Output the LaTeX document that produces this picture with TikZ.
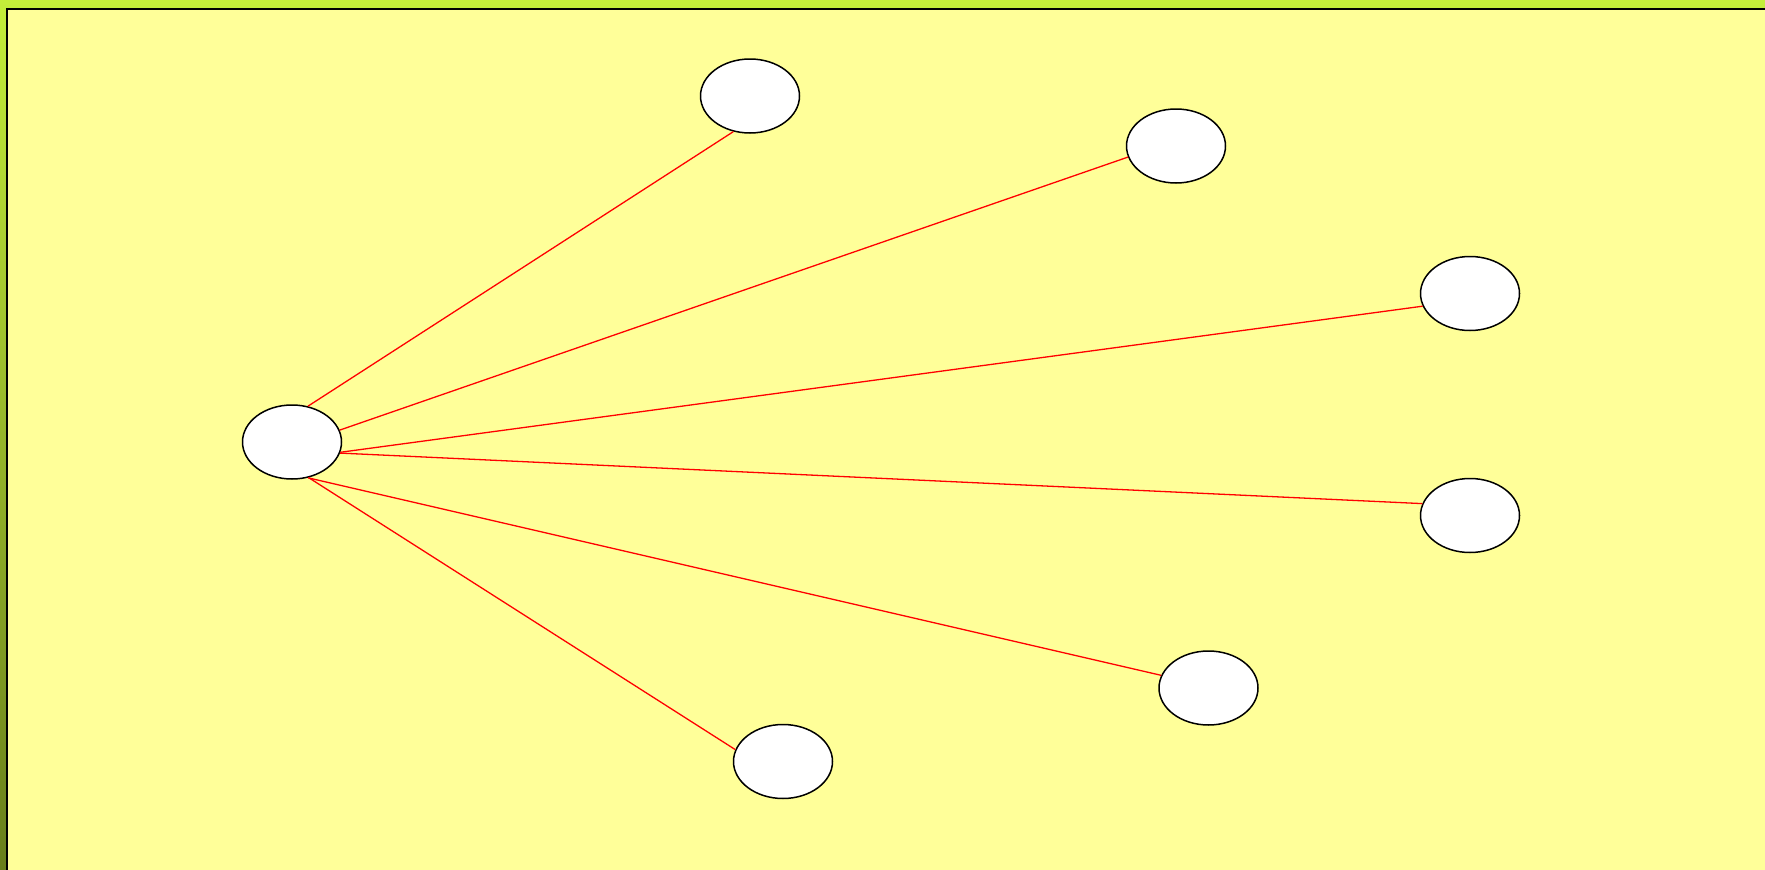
\documentclass[tikz,border=0pt]{standalone}
\usetikzlibrary{shapes.geometric}
\definecolor{bandtop}{RGB}{196,238,58}
\definecolor{bandbot}{RGB}{104,126,26}
\definecolor{panel}{RGB}{255,255,153}
\definecolor{edgered}{RGB}{255,0,0}
\tikzset{
  blob/.style={ellipse, draw=black, line width=1.5pt, fill=white,
    minimum width=99pt, minimum height=74pt, inner sep=0pt},
  link/.style={draw=edgered, line width=1.3pt}
}
\begin{document}
\begin{tikzpicture}[x=1pt,y=-1pt]
\useasboundingbox (0,0) rectangle (1765,870);
\shade[top color=bandtop, bottom color=bandbot] (0,0) rectangle (1765,870);
\draw[fill=panel, line width=2pt] (7,9) rectangle (1775,880);
\node[blob] (c) at (292,442) {};
\node[blob] (n1) at (750,96) {};
\node[blob] (n2) at (1176,146) {};
\node[blob] (n3) at (1470,293.5) {};
\node[blob] (n4) at (1470,515.5) {};
\node[blob] (n5) at (1208.5,688) {};
\node[blob] (n6) at (783,761.5) {};
\draw[link] (c.66.6) -- (n1.245.7);
\draw[link] (c.14.9) -- (n2.193.8);
\draw[link] (c.-12.7) -- (n3.195);
\draw[link] (c.-13.5) -- (n4.166);
\draw[link] (c.-66.6) -- (n5.165);
\draw[link] (c.-65) -- (n6.166);
\end{tikzpicture}
\end{document}
